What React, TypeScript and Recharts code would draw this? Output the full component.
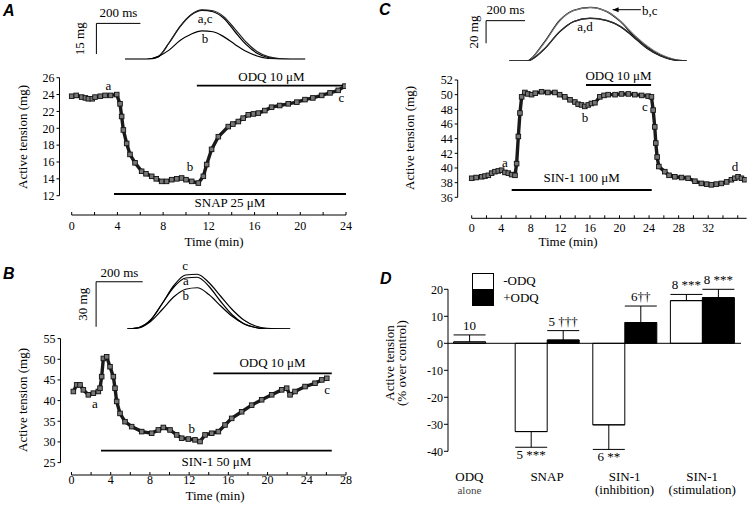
import React from 'react';
import {
  LineChart, Line, XAxis, YAxis, ReferenceLine, ReferenceDot,
  BarChart, Bar, ErrorBar, LabelList, Legend,
} from 'recharts';

const SERIF = '"Liberation Serif", "Times New Roman", serif';
const SANS = '"Liberation Sans", Arial, sans-serif';
const W = 750;
const H = 508;

// ---------------- Panel A (SNAP) ----------------
const aTime = [0, 0.4, 0.87, 1.2, 1.46, 1.8, 2.04, 2.5, 2.92, 3.4, 3.94, 4.23, 4.37, 4.52, 4.81, 5.1, 5.54, 6.12, 6.5, 7.0, 7.4, 7.87, 8.3, 8.75, 9.2, 9.62, 10.0, 10.5, 11.08, 11.52, 11.81, 12.24, 12.83, 13.7, 14.1, 14.58, 15.0, 15.45, 15.9, 16.33, 16.9, 17.49, 18.2, 18.95, 19.7, 20.41, 21.1, 21.87, 22.6, 23.32, 23.9];
const aTension = [23.8, 23.9, 23.7, 23.6, 23.5, 23.5, 23.7, 23.8, 23.9, 23.9, 24.0, 22.9, 21.4, 19.8, 18.2, 16.9, 15.9, 14.9, 14.6, 14.3, 14.0, 13.7, 13.7, 13.9, 14.0, 14.1, 13.9, 13.7, 13.5, 14.3, 15.7, 17.5, 19.0, 20.2, 20.5, 20.8, 21.2, 21.6, 21.7, 21.8, 22.1, 22.5, 22.7, 22.9, 23.1, 23.4, 23.6, 23.9, 24.2, 24.5, 25.0];
const aXTicks = [0, 2, 4, 6, 8, 10, 12, 14, 16, 18, 20, 22, 24];
const aYTicks = [12, 14, 16, 18, 20, 22, 24, 26];
const aLetters = [{ t: 3.2, v: 25.13, text: 'a' }, { t: 10.35, v: 15.44, text: 'b' }, { t: 23.6, v: 23.67, text: 'c' }];
const aDrugs = [
  { name: 'ODQ 10 \u03bcM', start: 10.95, end: 24, level: 25.05, side: 'top' },
  { name: 'SNAP 25 \u03bcM', start: 3.7, end: 24, level: 12.2, side: 'bottom' },
];
// inset A (twitch records, ms vs mg)
const insetATime = [0, 100, 150, 200, 250, 300, 350, 400, 450, 500, 550, 600, 650, 700, 750, 820];
const insetA_a = [0, 0, 1.2, 8, 16, 21.7, 24, 23.3, 20, 13.5, 7.3, 3, 0.9, 0.2, 0, 0];
const insetA_c = [0, 0, 1.2, 8, 16, 21.8, 24.2, 23.8, 20.8, 14.8, 8.5, 3.8, 1.3, 0.3, 0, 0];
const insetA_b = [0, 0, 1.3, 4.5, 9.2, 12.3, 13.9, 13.5, 11, 7.3, 3.9, 1.6, 0.4, 0, 0, 0];
const insetALabels = [{ t: 364, v: 20.2, text: 'a,c' }, { t: 364, v: 10.2, text: 'b' }];

// ---------------- Panel B (SIN-1 50 uM) ----------------
const bTime = [0.19, 0.53, 0.87, 1.21, 1.72, 2.23, 2.74, 2.91, 3.08, 3.25, 3.59, 3.93, 4.27, 4.44, 4.61, 4.95, 5.46, 6.14, 7.16, 8.18, 8.86, 9.37, 10.05, 10.73, 11.24, 11.92, 12.6, 13.11, 13.62, 14.3, 14.98, 15.66, 16.34, 17.36, 18.38, 19.4, 20.42, 21.44, 21.95, 22.29, 22.8, 23.82, 24.84, 25.53, 26.04];
const bTension = [42.2, 43.8, 43.8, 42.6, 41.4, 41.8, 42.2, 43.0, 45.8, 50.2, 50.6, 48.2, 45.8, 43.0, 39.8, 36.9, 34.9, 33.7, 32.5, 32.1, 32.9, 33.5, 32.9, 31.7, 30.9, 30.7, 30.5, 30.1, 31.7, 32.1, 32.5, 34.1, 35.7, 37.3, 38.9, 40.2, 41.4, 42.6, 43.0, 41.4, 42.2, 43.4, 44.2, 45.0, 45.4];
const bXTicks = [0, 2, 4, 6, 8, 10, 12, 14, 16, 18, 20, 22, 24, 26, 28];
const bYTicks = [25, 30, 35, 40, 45, 50, 55];
const bLetters = [{ t: 2.4, v: 39.4, text: 'a' }, { t: 12.27, v: 33.3, text: 'b' }, { t: 26.07, v: 42.73, text: 'c' }];
const bDrugs = [
  { name: 'ODQ 10 \u03bcM', start: 14.47, end: 26.55, level: 46.6, side: 'top' },
  { name: 'SIN-1 50 \u03bcM', start: 3.01, end: 26.55, level: 27.88, side: 'bottom' },
];
const insetBTime = [0, 50, 100, 150, 200, 250, 300, 350, 400, 450, 500, 550, 600, 700];
const insetB_c = [0, 1, 6, 17, 29, 36, 36.5, 31, 22, 13, 6, 2, 0.5, 0];
const insetB_a = [0, 1, 6, 17, 28, 34, 34.5, 28.5, 18.5, 9.5, 3.5, 1, 0, 0];
const insetB_b = [0, 0.8, 5, 13, 21.5, 26.5, 27.5, 23, 15.5, 8.5, 3.5, 1, 0, 0];
const insetBLabels = [{ t: 248, v: 42.7, text: 'c' }, { t: 251, v: 32.2, text: 'a' }, { t: 251, v: 22.7, text: 'b' }];

// ---------------- Panel C (SIN-1 100 uM) ----------------
const cTime = [0, 0.6, 1.35, 1.8, 2.25, 2.7, 3.15, 3.6, 4.05, 4.5, 4.95, 5.4, 5.86, 6.08, 6.31, 6.53, 6.76, 7.2, 7.6, 8.1, 8.6, 9.46, 10.3, 11.26, 11.9, 12.6, 13.3, 13.96, 14.4, 14.86, 15.3, 15.77, 16.2, 16.67, 17.34, 17.9, 18.47, 19.4, 20.27, 21.2, 22.07, 23.0, 23.87, 24.32, 24.55, 24.77, 24.91, 25.09, 25.32, 26.13, 26.7, 27.48, 28.4, 29.28, 30.2, 31.08, 31.8, 32.43, 33.1, 33.78, 34.5, 35.14, 35.6, 36.04, 36.5, 36.94];
const cTension = [38.6, 38.7, 38.8, 38.9, 39.0, 39.3, 39.5, 39.6, 39.7, 39.4, 39.3, 39.1, 39.0, 40.6, 44.3, 47.5, 49.7, 50.3, 50.1, 50.0, 50.2, 50.4, 50.3, 50.3, 50.0, 49.7, 49.3, 49.0, 48.7, 48.6, 48.4, 48.6, 48.8, 48.9, 49.7, 49.9, 50.0, 50.0, 50.1, 50.1, 50.0, 49.9, 49.8, 49.7, 47.9, 45.6, 43.4, 41.5, 40.2, 39.5, 39.0, 38.8, 38.7, 38.6, 38.2, 37.9, 37.8, 37.7, 37.8, 37.9, 38.1, 38.4, 38.6, 38.8, 38.6, 38.4];
const cXTicks = [0, 2, 4, 6, 8, 10, 12, 14, 16, 18, 20, 22, 24, 26, 28, 30, 32, 34, 36];
const cYTicks = [36, 38, 40, 42, 44, 46, 48, 50, 52];
const cLetters = [{ t: 4.5, v: 40.72, text: 'a' }, { t: 15.33, v: 46.91, text: 'b' }, { t: 23.45, v: 48.36, text: 'c' }, { t: 35.63, v: 40.17, text: 'd' }];
const cDrugs = [
  { name: 'ODQ 10 \u03bcM', start: 15.47, end: 24.27, level: 51.32, side: 'top' },
  { name: 'SIN-1 100 \u03bcM', start: 5.41, end: 24.36, level: 37.0, side: 'top' },
];
const insetCTime = [0, 90, 175, 260, 330, 415, 500, 570, 635, 705, 775, 840, 910];
const insetC_b = [0, 0, 15.6, 36.3, 44.9, 47.5, 43.7, 34.8, 23, 12.7, 5.3, 1.5, 0];
const insetC_c = [0, 0, 15, 35.8, 44.6, 47.3, 43.9, 35.4, 24, 13.6, 5.9, 1.8, 0];
const insetC_a = [0, 0, 9.7, 26, 34.8, 37.8, 35.7, 30.4, 21.5, 11.2, 4.4, 0.9, 0];
const insetC_d = [0, 0, 9.9, 26.3, 35, 38, 36, 30.8, 22.2, 11.8, 4.8, 1.1, 0];
const insetCLabels = [{ t: 388, v: 30.4, text: 'a,d' }, { t: 720, v: 44.6, text: 'b,c' }];

// ---------------- Panel D (summary bars) ----------------
const dCats = ['ODQ alone', 'SNAP', 'SIN-1 (inhibition)', 'SIN-1 (stimulation)'];
const dCatLine1 = ['ODQ', 'SNAP', 'SIN-1', 'SIN-1'];
const dCatLine2 = ['alone', '', '(inhibition)', '(stimulation)'];
const dAlone = [0.5, null, null, null];
const dAloneErr = [[0, 2.6], null, null, null];
const dAloneN = ['10', '', '', ''];
const dMinus = [null, -32.7, -30.2, 15.8];
const dMinusErr = [null, [5.8, 0], [9.1, 0], [0, 2.3]];
const dMinusN = ['', '5 ***', '6 **', '8 ***'];
const dPlus = [null, 1.2, 7.7, 16.9];
const dPlusErr = [null, [0, 3.5], [0, 6.1], [0, 3.1]];
const dPlusN = ['', '5 \u2020\u2020\u2020', '6\u2020\u2020', '8 ***'];
const dYTicks = [-40, -30, -20, -10, 0, 10, 20];
const D_MIN = -40;
const D_MAX = 20;
const D_TOP = 289.3;
const D_BOTTOM = 451.3;

const dData = dCats.map((cat, i) => ({
  cat,
  alone: dAlone[i], aloneErr: dAloneErr[i], aloneN: dAloneN[i],
  minus: dMinus[i], minusErr: dMinusErr[i], minusN: dMinusN[i],
  plus: dPlus[i], plusErr: dPlusErr[i], plusN: dPlusN[i],
}));

const toRows = (t: number[], v: number[]) => t.map((x, i) => ({ t: x, v: v[i] }));

// ---------------- helpers ----------------
const squareDot = (p: any) => {
  if (p.cx == null || p.cy == null) return <g key={`e${p.index}`} />;
  return (
    <rect key={`d${p.index}`} x={p.cx - 2.3} y={p.cy - 2.3} width={4.6} height={4.6}
      fill="#777" stroke="#111" strokeWidth={0.9} />
  );
};

const makeXTick = (labelEvery: number, labelMax: number, dy: number) => (props: any) => {
  const { x, y, payload } = props;
  const v = payload?.value;
  const show = v % labelEvery === 0 && v <= labelMax;
  return (
    <g>
      <line x1={x} y1={y} x2={x} y2={y - 3} stroke="#000" strokeWidth={1} />
      {show ? (
        <text x={x} y={y + dy} textAnchor="middle" fontSize={12} fontFamily={SERIF} fill="#000">{v}</text>
      ) : null}
    </g>
  );
};

const rotLabel = (text: string, dx: number) => (props: any) => {
  const vb = props.viewBox || {};
  const x = vb.x != null ? vb.x : Math.min(vb.x1, vb.x2);
  const y = vb.y != null ? vb.y : Math.min(vb.y1, vb.y2);
  const h = vb.height != null ? vb.height : Math.abs(vb.y2 - vb.y1);
  const cx = x - dx;
  const cy = y + h / 2;
  return (
    <text x={cx} y={cy} transform={`rotate(-90 ${cx} ${cy})`} textAnchor="middle"
      fontSize={13} fontFamily={SERIF} fill="#000">{text}</text>
  );
};

type Box = { left: number; right: number; top: number; bottom: number };

function TracePanel(p: {
  data: { t: number; v: number }[]; plot: Box; xDomain: [number, number]; yDomain: [number, number];
  xTicks: number[]; yTicks: number[]; labelMax: number; xAxisEnd: number; tickDy: number;
  letters: { t: number; v: number; text: string }[];
  drugs: { name: string; start: number; end: number; level: number; side: string }[];
  drugOffsets: number[];
}) {
  const margin = { top: p.plot.top, right: W - p.plot.right, bottom: H - p.plot.bottom - 30, left: 0 };
  return (
    <div style={{ position: 'absolute', left: 0, top: 0 }}>
      <LineChart width={W} height={H} data={p.data} margin={margin}>
        <XAxis type="number" dataKey="t" domain={p.xDomain} allowDataOverflow ticks={p.xTicks} interval={0}
          tick={makeXTick(4, p.labelMax, p.tickDy)} tickLine={false} axisLine={false} tickSize={0} tickMargin={0} height={30} />
        <YAxis type="number" domain={p.yDomain} allowDataOverflow ticks={p.yTicks} interval={0} width={p.plot.left}
          axisLine={false} tickSize={3} tickMargin={2} tickLine={{ stroke: '#000' }}
          tick={{ fontSize: 12, fill: '#000', fontFamily: SERIF }} />
        <ReferenceLine segment={[{ x: p.xDomain[0], y: p.yTicks[0] }, { x: p.xDomain[0], y: p.yTicks[p.yTicks.length - 1] }]}
          stroke="#000" strokeWidth={1} ifOverflow="visible" />
        <ReferenceLine segment={[{ x: 0, y: p.yDomain[0] }, { x: p.xAxisEnd, y: p.yDomain[0] }]}
          stroke="#000" strokeWidth={1} ifOverflow="visible" />
        {p.drugs.map((d, i) => (
          <ReferenceLine key={d.name} segment={[{ x: d.start, y: d.level }, { x: d.end, y: d.level }]}
            stroke="#000" strokeWidth={1.8} ifOverflow="visible"
            label={{ value: d.name, position: d.side as any, offset: p.drugOffsets[i], fontSize: 13, fill: '#000', fontFamily: SERIF }} />
        ))}
        <Line type="linear" dataKey="v" stroke="#1a1a1a" strokeWidth={3.4} dot={squareDot} isAnimationActive={false} />
        {p.letters.map((l) => (
          <ReferenceDot key={l.text} x={l.t} y={l.v} r={1} fill="none" stroke="none" ifOverflow="visible"
            label={{ value: l.text, position: 'center', fontSize: 13, fill: '#000', fontFamily: SERIF }} />
        ))}
      </LineChart>
    </div>
  );
}

function InsetPanel(p: {
  data: any[]; keys: { key: string; color: string }[]; plot: Box; xDomain: [number, number]; yDomain: [number, number];
  hBar: { x1: number; x2: number; y: number }; vBar: { x: number; y1: number; y2: number };
  hOffset: number; vText: string; vDx: number; labels: { t: number; v: number; text: string }[];
  arrow?: { x1: number; x2: number; y: number };
}) {
  const margin = { top: p.plot.top, right: W - p.plot.right, bottom: H - p.plot.bottom, left: p.plot.left };
  return (
    <div style={{ position: 'absolute', left: 0, top: 0 }}>
      <LineChart width={W} height={H} data={p.data} margin={margin}>
        <XAxis type="number" dataKey="t" domain={p.xDomain} allowDataOverflow hide />
        <YAxis type="number" domain={p.yDomain} allowDataOverflow hide />
        <ReferenceLine segment={[{ x: p.hBar.x1, y: p.hBar.y }, { x: p.hBar.x2, y: p.hBar.y }]} stroke="#000" strokeWidth={1}
          ifOverflow="visible"
          label={{ value: '200 ms', position: 'top', offset: p.hOffset, fontSize: 13, fill: '#000', fontFamily: SERIF }} />
        <ReferenceLine segment={[{ x: p.vBar.x, y: p.vBar.y1 }, { x: p.vBar.x, y: p.vBar.y2 }]} stroke="#000" strokeWidth={1}
          ifOverflow="visible" label={{ content: rotLabel(p.vText, p.vDx) } as any} />
        {p.arrow ? (
          <ReferenceLine segment={[{ x: p.arrow.x1, y: p.arrow.y }, { x: p.arrow.x2, y: p.arrow.y }]} ifOverflow="visible"
            shape={(s: any) => (
              <g>
                <line x1={s.x1} y1={s.y1} x2={s.x2} y2={s.y2} stroke="#000" strokeWidth={1} />
                <polygon points={`${Math.min(s.x1, s.x2)},${s.y1} ${Math.min(s.x1, s.x2) + 6},${s.y1 - 2.5} ${Math.min(s.x1, s.x2) + 6},${s.y1 + 2.5}`} fill="#000" />
              </g>
            )} />
        ) : null}
        {p.keys.map((k) => (
          <Line key={k.key} type="monotone" dataKey={k.key} stroke={k.color} strokeWidth={1.2} dot={false} isAnimationActive={false} />
        ))}
        {p.labels.map((l) => (
          <ReferenceDot key={l.text} x={l.t} y={l.v} r={1} fill="none" stroke="none" ifOverflow="visible"
            label={{ value: l.text, position: 'center', fontSize: 13, fill: '#000', fontFamily: SERIF }} />
        ))}
      </LineChart>
    </div>
  );
}

// y pixel of a value on panel D's axis (same linear mapping as the YAxis domain/plot box)
const dY = (val: number) => D_TOP + ((D_MAX - val) / (D_MAX - D_MIN)) * (D_BOTTOM - D_TOP);

const nLabelContent = (p: any) => {
  const info = p.value;
  if (!info || typeof info !== 'object' || !info.text) return null;
  const vb = p.viewBox && p.viewBox.width != null ? p.viewBox : p;
  const x = vb.x + vb.width / 2;
  const { v, e, text } = info;
  if (v >= 0) {
    return <text x={x} y={dY(v + e[1]) - 5} textAnchor="middle" fontSize={13} fontFamily={SERIF} fill="#000">{text}</text>;
  }
  return <text x={x} y={dY(v - e[0]) + 12} textAnchor="middle" fontSize={13} fontFamily={SERIF} fill="#000">{text}</text>;
};

const labelKey = (vk: string, ek: string, nk: string) => (r: any) =>
  r[vk] == null || !r[nk] ? null : { text: r[nk], v: r[vk], e: r[ek] };

const DCatTick = (p: any) => {
  const i = dCats.indexOf(p.payload?.value);
  if (i < 0) return <g />;
  return (
    <g>
      <text x={p.x} y={p.y + 29.5} textAnchor="middle" fontSize={13} fontFamily={SERIF} fill="#000">{dCatLine1[i]}</text>
      {dCatLine2[i] ? (
        <text x={p.x} y={p.y + 43} textAnchor="middle" fontSize={i === 0 ? 11 : 13} fontFamily={SERIF}
          fill={i === 0 ? '#444' : '#000'}>{dCatLine2[i]}</text>
      ) : null}
    </g>
  );
};

const DLegend = (props: any) => {
  const order = ['minus', 'plus'];
  const items = (props.payload || [])
    .filter((it: any) => it.type !== 'none' && order.includes(it.dataKey))
    .sort((a: any, b: any) => order.indexOf(a.dataKey) - order.indexOf(b.dataKey));
  return (
    <div style={{ fontFamily: SERIF, fontSize: 13, color: '#000', lineHeight: '16.5px' }}>
      {items.map((it: any, i: number) => (
        <div key={i} style={{ display: 'flex', alignItems: 'center', height: 16.5 }}>
          <span style={{
            display: 'inline-block', width: 22.5, height: 16.5, boxSizing: 'border-box',
            border: '1px solid #000', borderTop: i > 0 ? 'none' : '1px solid #000',
            background: it.dataKey === 'minus' ? '#fff' : '#000',
          }} />
          <span style={{ marginLeft: 9 }}>{it.value}</span>
        </div>
      ))}
    </div>
  );
};

function PanelD() {
  return (
    <div style={{ position: 'absolute', left: 0, top: 0 }}>
      <BarChart width={W} height={H} data={dData} margin={{ top: D_TOP, right: 9, bottom: H - D_BOTTOM - 40, left: 388 }} barGap={0}>
        <XAxis xAxisId="g" dataKey="cat" axisLine={false} tickLine={false} tickSize={0} tickMargin={0} height={40}
          padding={{ left: -17.4, right: 0 }} tick={DCatTick} interval={0} />
        <XAxis xAxisId="s" dataKey="cat" hide padding={{ left: -17.4, right: 0 }} />
        <YAxis type="number" domain={[D_MIN, D_MAX]} ticks={dYTicks} interval={0} width={60} allowDataOverflow
          axisLine={{ stroke: '#000' }} tickLine={{ stroke: '#000' }} tickSize={4} tickMargin={1}
          tick={{ fontSize: 12, fill: '#000', fontFamily: SERIF }} />
        <ReferenceLine xAxisId="g" y={0} stroke="#000" strokeWidth={1} />
        <Bar xAxisId="s" dataKey="alone" legendType="none" fill="#fff" stroke="#000" strokeWidth={1} barSize={32} isAnimationActive={false}>
          <ErrorBar dataKey="aloneErr" width={16} stroke="#000" strokeWidth={1} direction="y" />
          <LabelList dataKey={labelKey('alone', 'aloneErr', 'aloneN') as any} content={nLabelContent} />
        </Bar>
        <Bar xAxisId="g" dataKey="minus" name="-ODQ" fill="#fff" stroke="#000" strokeWidth={1} barSize={32} isAnimationActive={false}>
          <ErrorBar dataKey="minusErr" width={16} stroke="#000" strokeWidth={1} direction="y" />
          <LabelList dataKey={labelKey('minus', 'minusErr', 'minusN') as any} content={nLabelContent} />
        </Bar>
        <Bar xAxisId="g" dataKey="plus" name="+ODQ" fill="#000" stroke="#000" strokeWidth={1} barSize={32} isAnimationActive={false}>
          <ErrorBar dataKey="plusErr" width={16} stroke="#000" strokeWidth={1} direction="y" />
          <LabelList dataKey={labelKey('plus', 'plusErr', 'plusN') as any} content={nLabelContent} />
        </Bar>
        <Legend layout="horizontal" verticalAlign="middle" align="center" content={DLegend}
          wrapperStyle={{ left: 471.7, top: 273.3, width: 'auto', height: 'auto' }} />
      </BarChart>
    </div>
  );
}

const txt = { fontFamily: SERIF, fontSize: 13, fill: '#000' } as const;
const letter = { fontFamily: SANS, fontSize: 16, fontStyle: 'italic', fontWeight: 'bold', fill: '#000' } as const;

export default function App() {
  const insetAData = insetATime.map((t, i) => ({ t, a: insetA_a[i], c: insetA_c[i], b: insetA_b[i] }));
  const insetBData = insetBTime.map((t, i) => ({ t, c: insetB_c[i], a: insetB_a[i], b: insetB_b[i] }));
  const insetCData = insetCTime.map((t, i) => ({ t, b: insetC_b[i], c: insetC_c[i], a: insetC_a[i], d: insetC_d[i] }));
  return (
    <div style={{ position: 'fixed', left: 0, top: 0, width: W, height: H, background: '#fff', overflow: 'hidden' }}>
      <TracePanel data={toRows(aTime, aTension)} plot={{ left: 59.5, right: 346, top: 77.7, bottom: 215 }}
        xDomain={[-1.067, 24]} yDomain={[9.71, 26]} xTicks={aXTicks} yTicks={aYTicks} labelMax={24} xAxisEnd={24}
        tickDy={14.5} letters={aLetters} drugs={aDrugs} drugOffsets={[5, 4]} />
      <TracePanel data={toRows(bTime, bTension)} plot={{ left: 60.5, right: 346, top: 338.6, bottom: 475 }}
        xDomain={[-1.12, 28]} yDomain={[22.0, 55]} xTicks={bXTicks} yTicks={bYTicks} labelMax={28} xAxisEnd={28}
        tickDy={9} letters={bLetters} drugs={bDrugs} drugOffsets={[6, 6]} />
      <TracePanel data={toRows(cTime, cTension)} plot={{ left: 457.7, right: 746.7, top: 80, bottom: 218.3 }}
        xDomain={[-1.894, 37.21]} yDomain={[33.14, 52]} xTicks={cXTicks} yTicks={cYTicks} labelMax={32} xAxisEnd={37.2}
        tickDy={14} letters={cLetters} drugs={cDrugs} drugOffsets={[5, 8]} />

      <InsetPanel data={insetAData} keys={[{ key: 'a', color: '#000' }, { key: 'c', color: '#222' }, { key: 'b', color: '#000' }]}
        plot={{ left: 94.2, right: 305.4, top: 6.26, bottom: 59.3 }} xDomain={[-140, 820]} yDomain={[0, 26]}
        hBar={{ x1: -130, x2: 70, y: 17.6 }} vBar={{ x: -130, y1: 2.6, y2: 17.6 }} hOffset={6} vText="15 mg" vDx={12}
        labels={insetALabels} />
      <InsetPanel data={insetBData} keys={[{ key: 'c', color: '#000' }, { key: 'a', color: '#000' }, { key: 'b', color: '#000' }]}
        plot={{ left: 94.7, right: 290.4, top: 269, bottom: 329 }} xDomain={[-140, 700]} yDomain={[0, 40]}
        hBar={{ x1: -134, x2: 66, y: 31.5 }} vBar={{ x: -134, y1: 1.5, y2: 31.5 }} hOffset={5} vText="30 mg" vDx={9}
        labels={insetBLabels} />
      <InsetPanel data={insetCData} keys={[{ key: 'b', color: '#000' }, { key: 'c', color: '#777' }, { key: 'a', color: '#000' }, { key: 'd', color: '#333' }]}
        plot={{ left: 484.9, right: 688.7, top: 4.5, bottom: 61 }} xDomain={[-125, 920]} yDomain={[0, 50]}
        hBar={{ x1: -119, x2: 81, y: 35.7 }} vBar={{ x: -119, y1: 15.7, y2: 35.7 }} hOffset={6.5} vText="20 mg" vDx={8.5}
        labels={insetCLabels} arrow={{ x1: 530, x2: 675, y: 45.4 }} />

      <PanelD />

      <svg width={W} height={H} style={{ position: 'absolute', left: 0, top: 0, pointerEvents: 'none' }}>
        <text x={3} y={15.5} {...letter}>A</text>
        <text x={3} y={278.5} {...letter}>B</text>
        <text x={379} y={15} {...letter}>C</text>
        <text x={380} y={283.5} {...letter}>D</text>
        <text x={27} y={137} transform="rotate(-90 27 137)" textAnchor="middle" {...txt}>Active tension (mg)</text>
        <text x={27} y={400} transform="rotate(-90 27 400)" textAnchor="middle" {...txt}>Active tension (mg)</text>
        <text x={413.5} y={138} transform="rotate(-90 413.5 138)" textAnchor="middle" {...txt}>Active tension (mg)</text>
        <text x={394} y={363} transform="rotate(-90 394 363)" textAnchor="middle" {...txt}>Active tension</text>
        <text x={405.5} y={363} transform="rotate(-90 405.5 363)" textAnchor="middle" {...txt}>(% over control)</text>
        <text x={214} y={245.5} textAnchor="middle" {...txt}>Time (min)</text>
        <text x={215} y={499.5} textAnchor="middle" {...txt}>Time (min)</text>
        <text x={568} y={246} textAnchor="middle" {...txt}>Time (min)</text>
      </svg>
    </div>
  );
}
